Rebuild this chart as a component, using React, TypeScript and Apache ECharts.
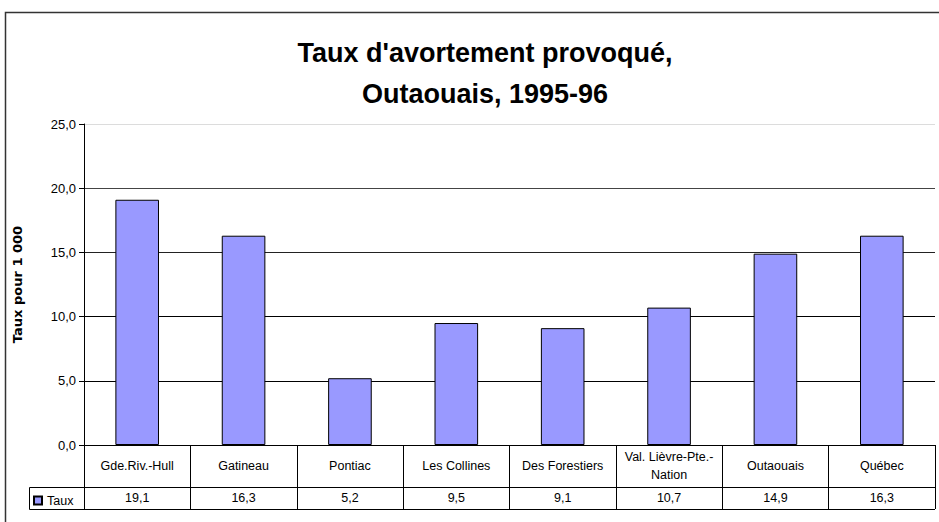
import React, { useEffect, useRef } from "react";
import * as echarts from "echarts";

const categories = [
  "Gde.Riv.-Hull",
  "Gatineau",
  "Pontiac",
  "Les Collines",
  "Des Forestiers",
  "Val. Lièvre-Pte.-\nNation",
  "Outaouais",
  "Québec",
];
const tauxValues = [19.1, 16.3, 5.2, 9.5, 9.1, 10.7, 14.9, 16.3];
const seriesName = "Taux";
const yMin = 0;
const yMax = 25;
const yStep = 5;

const fmt = (v: number) => v.toFixed(1).replace(".", ",");

export default function App() {
  const ref = useRef<HTMLDivElement>(null);
  useEffect(() => {
    if (!ref.current) return;
    const chart = echarts.init(ref.current, undefined, { renderer: "svg" });
    const font = "'Liberation Sans', Arial, sans-serif";
    chart.setOption({
      animation: false,
      backgroundColor: "#fff",
      title: {
        text: "Taux d'avortement provoqué,\nOutaouais, 1995-96",
        left: 480,
        textAlign: "center",
        top: 27,
        textStyle: {
          fontFamily: font,
          fontWeight: "bold",
          fontSize: 27,
          lineHeight: 41,
          color: "#000",
        },
      },
      legend: {
        show: true,
        left: 33,
        top: 494,
        itemWidth: 8,
        itemHeight: 8,
        itemGap: 4,
        padding: 0,
        textStyle: { fontFamily: font, fontSize: 12.5, color: "#000" },
        data: [{ name: seriesName, icon: "rect" }],
      },
      grid: { left: 84, right: 4, top: 124, bottom: 77, containLabel: false },
      xAxis: [
        {
          type: "category",
          data: categories,
          position: "bottom",
          axisLine: { show: true, lineStyle: { color: "#000", width: 1 } },
          axisTick: { show: true, interval: 0, length: 64, lineStyle: { color: "#000" } },
          axisLabel: {
            interval: 0,
            margin: 21,
            verticalAlign: "middle",
            fontFamily: font,
            fontSize: 12.5,
            lineHeight: 18,
            color: "#000",
          },
        },
        {
          type: "category",
          data: tauxValues.map(fmt),
          position: "bottom",
          offset: 42,
          axisLine: { show: true, lineStyle: { color: "#000", width: 1 } },
          axisTick: { show: false },
          axisLabel: {
            interval: 0,
            margin: 11,
            verticalAlign: "middle",
            fontFamily: font,
            fontSize: 12.5,
            color: "#000",
          },
        },
      ],
      yAxis: {
        type: "value",
        min: yMin,
        max: yMax,
        interval: yStep,
        name: "Taux pour 1 000",
        nameLocation: "middle",
        nameGap: 60,
        nameRotate: 90,
        nameTextStyle: {
          fontFamily: "'DejaVu Sans', sans-serif",
          fontWeight: "bold",
          fontSize: 13,
          color: "#000",
        },
        axisLine: { show: true, lineStyle: { color: "#000" } },
        axisTick: { show: true, length: 5, lineStyle: { color: "#000" } },
        axisLabel: { formatter: fmt, fontFamily: font, fontSize: 13, color: "#000", margin: 8 },
        splitLine: {
          show: true,
          lineStyle: { color: ["#000", "#000", "#000", "#222", "#444", "#dcdcdc"], width: 1 },
        },
      },
      series: [
        {
          name: seriesName,
          type: "bar",
          data: tauxValues,
          barWidth: "41%",
          itemStyle: { color: "#9999FF", borderColor: "#000", borderWidth: 1 },
        },
      ],
      graphic: [
        {
          type: "polyline",
          shape: { points: [[5.5, 522], [5.5, 12.5], [939, 12.5]] },
          style: { stroke: "#333", lineWidth: 1.5, fill: "none" },
          silent: true,
        },
        {
          type: "polyline",
          shape: { points: [[84, 487.5], [29.5, 487.5], [29.5, 509.5], [935, 509.5]] },
          style: { stroke: "#000", lineWidth: 1, fill: "none" },
          silent: true,
        },
      ],
    });
    return () => chart.dispose();
  }, []);
  return <div ref={ref} style={{ width: 939, height: 522, position: "absolute", left: 0, top: 0 }} />;
}
